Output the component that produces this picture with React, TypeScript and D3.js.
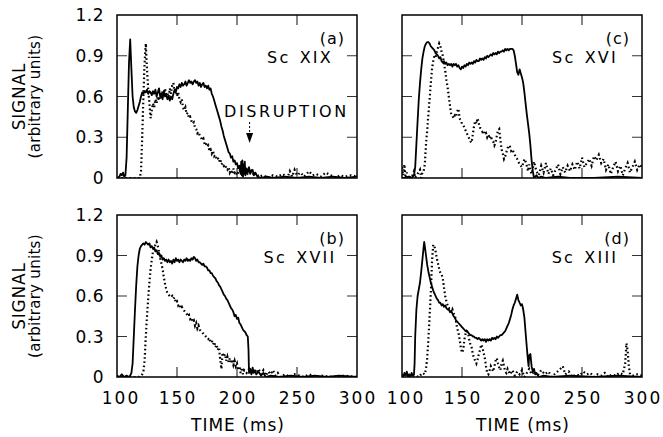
import React from "react";
import * as d3 from "d3";

type Pt = [number, number];

const yTickValues = [0, 0.3, 0.6, 0.9, 1.2];
const yTickLabels = ["0", "0.3", "0.6", "0.9", "1.2"];
const xTickValues = [100, 150, 200, 250, 300];
const xTickLabels = ["100", "150", "200", "250", "300"];

const panelLetters = ["(a)", "(b)", "(c)", "(d)"];
const panelNames = ["Sc XIX", "Sc XVII", "Sc XVI", "Sc XIII"];

const aSolid: Pt[] = [[100,0],[102,0.01],[103,0.03],[104,0.02],[105,0.04],[106,0.01],[107,0.02],[108,0.15],[109,0.5],[110,0.85],[111,1.02],[112,0.8],[113,0.6],[114,0.52],[115,0.49],[116,0.48],[117,0.5],[118,0.53],[119,0.56],[120,0.6],[121,0.63],[122,0.62],[123,0.64],[124,0.63],[125,0.65],[126,0.62],[127,0.64],[128,0.63],[129,0.61],[130,0.64],[131,0.62],[132,0.65],[133,0.6],[134,0.63],[135,0.66],[136,0.6],[137,0.62],[138,0.58],[139,0.64],[140,0.6],[141,0.62],[142,0.58],[143,0.6],[144,0.57],[145,0.6],[146,0.58],[147,0.62],[148,0.65],[149,0.63],[150,0.67],[151,0.66],[152,0.69],[153,0.67],[154,0.7],[155,0.68],[156,0.69],[157,0.71],[158,0.68],[159,0.7],[160,0.72],[161,0.7],[162,0.71],[163,0.69],[164,0.71],[165,0.72],[166,0.7],[167,0.71],[168,0.68],[169,0.7],[170,0.67],[171,0.69],[172,0.7],[173,0.67],[174,0.68],[175,0.66],[176,0.68],[177,0.65],[178,0.66],[179,0.62],[180,0.6],[181,0.57],[182,0.54],[183,0.51],[184,0.48],[185,0.45],[186,0.42],[187,0.38],[188,0.35],[189,0.31],[190,0.28],[191,0.25],[192,0.22],[193,0.19],[194,0.18],[195,0.15],[196,0.16],[197,0.12],[198,0.13],[199,0.1],[200,0.11],[201,0.07],[202,0.09],[203,0.03],[203.5,0.12],[204,0.02],[204.5,0.13],[205,0.01],[205.5,0.1],[206,0.03],[206.5,0.12],[207,0.02],[208,0.07],[209,0.04],[210,0.08],[211,0.03],[212,0.05],[213,0.06],[214,0.02],[215,0.04],[217,0.01],[220,0],[225,0.01],[230,0],[240,0.01],[250,0],[260,0.01],[270,0],[280,0.01],[290,0],[300,0.01]];

const aDotted: Pt[] = [[100,0],[105,0],[110,0],[115,0],[119,0],[120,0.05],[121,0.3],[122,0.6],[123,0.85],[124,0.99],[125,0.8],[126,0.65],[127,0.55],[128,0.44],[129,0.5],[130,0.55],[131,0.52],[132,0.58],[133,0.55],[134,0.6],[135,0.57],[136,0.62],[137,0.58],[138,0.64],[139,0.6],[140,0.66],[141,0.6],[142,0.63],[143,0.58],[144,0.66],[145,0.62],[146,0.68],[147,0.7],[148,0.62],[149,0.66],[150,0.6],[151,0.63],[152,0.58],[153,0.56],[154,0.58],[155,0.52],[156,0.5],[157,0.52],[158,0.47],[159,0.48],[160,0.44],[161,0.45],[162,0.42],[163,0.4],[164,0.41],[165,0.37],[166,0.36],[167,0.33],[168,0.34],[169,0.31],[170,0.3],[171,0.28],[172,0.29],[173,0.25],[174,0.26],[175,0.23],[176,0.24],[177,0.2],[178,0.21],[179,0.18],[180,0.2],[181,0.16],[182,0.17],[183,0.14],[184,0.15],[185,0.12],[186,0.14],[187,0.1],[188,0.11],[189,0.09],[190,0.1],[191,0.07],[192,0.06],[193,0.08],[194,0.04],[195,0.06],[196,0.03],[197,0.07],[198,0.04],[199,0.05],[200,0.02],[202,0.06],[204,0.03],[206,0.08],[208,0.02],[210,0.05],[212,0.07],[214,0.02],[216,0.04],[218,0.01],[222,0.02],[226,0],[230,0.02],[234,0.01],[238,0.03],[242,0],[244,0.05],[246,0.01],[248,0.06],[250,0.02],[253,0.04],[256,0.01],[260,0.05],[263,0.02],[266,0.03],[270,0.01],[274,0.04],[278,0.02],[282,0],[286,0.02],[290,0.01],[295,0.02],[300,0.01]];

const bSolid: Pt[] = [[100,0.01],[102,0],[104,0.02],[106,0],[108,0.01],[110,0],[111,0.01],[112,0.03],[113,0.1],[114,0.3],[115,0.5],[116,0.68],[117,0.82],[118,0.9],[119,0.95],[120,0.97],[121,0.98],[122,0.99],[123,0.98],[124,1.0],[125,0.99],[126,0.98],[127,0.99],[128,0.96],[129,0.97],[130,0.95],[131,0.96],[132,0.93],[133,0.94],[134,0.91],[135,0.92],[136,0.89],[137,0.9],[138,0.87],[139,0.88],[140,0.86],[141,0.87],[142,0.85],[143,0.87],[144,0.85],[145,0.86],[146,0.84],[147,0.87],[148,0.85],[149,0.88],[150,0.86],[151,0.87],[152,0.85],[153,0.87],[154,0.86],[155,0.85],[156,0.87],[157,0.86],[158,0.88],[159,0.86],[160,0.87],[161,0.86],[162,0.88],[163,0.87],[164,0.89],[165,0.88],[166,0.86],[167,0.87],[168,0.85],[169,0.85],[170,0.84],[171,0.83],[172,0.84],[173,0.82],[174,0.82],[175,0.81],[176,0.79],[177,0.79],[178,0.77],[179,0.77],[180,0.75],[181,0.74],[182,0.73],[183,0.71],[184,0.7],[185,0.68],[186,0.67],[187,0.65],[188,0.63],[189,0.61],[190,0.6],[191,0.58],[192,0.57],[193,0.55],[194,0.53],[195,0.51],[196,0.5],[197,0.48],[198,0.45],[199,0.46],[200,0.43],[201,0.44],[202,0.4],[203,0.39],[204,0.37],[205,0.35],[206,0.34],[207,0.33],[208,0.31],[209,0.3],[209.6,0.2],[210,0.03],[211,0.06],[212,0.02],[213,0.07],[214,0.03],[215,0.05],[216,0.02],[218,0.04],[220,0.01],[222,0.03],[224,0],[228,0.01],[235,0],[245,0.01],[255,0],[265,0.01],[275,0],[285,0.01],[300,0]];

const bDotted: Pt[] = [[100,0],[110,0],[118,0],[120,0.01],[121,0.02],[122,0.04],[123,0.12],[124,0.3],[125,0.45],[126,0.58],[127,0.7],[128,0.8],[129,0.87],[130,0.93],[131,0.95],[132,0.98],[133,1.0],[134,0.97],[135,0.93],[136,0.88],[137,0.84],[138,0.8],[139,0.74],[140,0.69],[141,0.65],[142,0.62],[143,0.61],[144,0.6],[145,0.59],[146,0.6],[147,0.58],[148,0.59],[149,0.55],[150,0.56],[151,0.53],[152,0.54],[153,0.51],[154,0.52],[155,0.5],[156,0.49],[157,0.48],[158,0.47],[159,0.45],[160,0.46],[161,0.43],[162,0.44],[163,0.41],[164,0.42],[165,0.38],[166,0.4],[167,0.36],[168,0.38],[169,0.35],[170,0.34],[171,0.33],[172,0.32],[173,0.31],[174,0.3],[175,0.29],[176,0.28],[177,0.29],[178,0.26],[179,0.27],[180,0.24],[181,0.26],[182,0.22],[183,0.24],[184,0.2],[185,0.22],[186,0.13],[187,0.06],[188,0.18],[189,0.15],[190,0.17],[191,0.12],[192,0.15],[193,0.11],[194,0.14],[195,0.1],[196,0.13],[197,0.09],[198,0.12],[199,0.08],[200,0.1],[201,0.05],[202,0.08],[203,0.03],[204,0.07],[205,0.02],[206,0.05],[208,0.03],[210,0.06],[212,0.02],[214,0.05],[216,0.03],[218,0.06],[220,0.02],[222,0.05],[224,0.01],[226,0.04],[228,0.02],[230,0.05],[232,0.01],[234,0.03],[236,0],[240,0.02],[244,0],[248,0.02],[252,0.01],[256,0],[260,0.02],[265,0],[270,0.01],[280,0],[290,0.01],[300,0]];

const cSolid: Pt[] = [[100,0],[103,0],[106,0.01],[108,0],[110,0.02],[111,0.08],[112,0.25],[113,0.42],[114,0.58],[115,0.7],[116,0.8],[117,0.88],[118,0.93],[119,0.97],[120,0.99],[121,1.0],[122,1.0],[123,0.99],[124,0.97],[125,0.96],[126,0.95],[127,0.94],[128,0.92],[129,0.91],[130,0.9],[131,0.88],[132,0.89],[133,0.86],[134,0.85],[135,0.86],[136,0.84],[137,0.85],[138,0.83],[139,0.84],[140,0.83],[141,0.84],[142,0.82],[143,0.84],[144,0.83],[145,0.84],[146,0.82],[147,0.83],[148,0.81],[149,0.8],[150,0.82],[151,0.81],[152,0.83],[153,0.82],[154,0.84],[155,0.83],[156,0.85],[157,0.84],[158,0.85],[159,0.84],[160,0.86],[161,0.85],[162,0.87],[163,0.86],[164,0.86],[165,0.88],[166,0.87],[167,0.88],[168,0.87],[169,0.89],[170,0.88],[171,0.9],[172,0.89],[173,0.9],[174,0.91],[175,0.9],[176,0.92],[177,0.91],[178,0.92],[179,0.91],[180,0.93],[181,0.92],[182,0.93],[183,0.93],[184,0.94],[185,0.93],[186,0.95],[187,0.94],[188,0.95],[189,0.94],[190,0.95],[191,0.95],[192,0.95],[193,0.94],[194,0.9],[195,0.84],[196,0.78],[197,0.76],[198,0.8],[199,0.77],[200,0.74],[201,0.7],[202,0.63],[203,0.55],[204,0.47],[205,0.4],[206,0.33],[207,0.24],[208,0.13],[209,0.05],[210,0],[212,0.02],[214,0],[216,0.01],[220,0],[230,0.01],[240,0],[260,0],[280,0.01],[300,0]];

const cDotted: Pt[] = [[100,0.08],[101,0.02],[102,0.1],[103,0],[104,0.04],[105,0],[106,0.01],[108,0],[110,0.05],[111,0],[113,0.03],[115,0.06],[116,0],[117,0.04],[118,0.05],[119,0.1],[120,0.25],[121,0.35],[122,0.47],[123,0.58],[124,0.7],[125,0.8],[126,0.86],[127,0.9],[128,0.89],[129,0.93],[130,0.96],[131,0.99],[132,0.97],[133,0.93],[134,0.9],[135,0.84],[136,0.79],[137,0.72],[138,0.67],[139,0.6],[140,0.53],[141,0.47],[142,0.46],[143,0.44],[144,0.46],[145,0.45],[146,0.49],[147,0.51],[148,0.44],[149,0.42],[150,0.4],[151,0.39],[152,0.37],[153,0.35],[154,0.33],[155,0.31],[156,0.29],[157,0.27],[158,0.26],[159,0.32],[160,0.38],[161,0.42],[162,0.4],[163,0.44],[164,0.4],[165,0.37],[166,0.36],[167,0.34],[168,0.35],[169,0.32],[170,0.33],[171,0.3],[172,0.32],[173,0.29],[174,0.31],[175,0.28],[176,0.27],[177,0.24],[178,0.26],[179,0.31],[180,0.35],[181,0.36],[182,0.28],[183,0.21],[184,0.18],[185,0.14],[186,0.16],[187,0.19],[188,0.22],[189,0.24],[190,0.23],[191,0.2],[192,0.21],[193,0.19],[194,0.17],[195,0.15],[196,0.14],[197,0.12],[198,0.1],[199,0.09],[200,0.08],[201,0.11],[202,0.14],[203,0.12],[204,0.09],[205,0.05],[206,0.1],[207,0.06],[208,0.03],[209,0.07],[210,0.12],[212,0.05],[214,0.02],[216,0.09],[218,0.04],[220,0.11],[222,0.03],[224,0.07],[226,0.02],[228,0.06],[230,0.1],[232,0.03],[234,0.08],[236,0.04],[238,0.09],[240,0.05],[242,0.1],[244,0.06],[246,0.12],[248,0.07],[250,0.15],[252,0.08],[254,0.11],[256,0.14],[258,0.09],[260,0.16],[262,0.13],[264,0.17],[266,0.11],[268,0.14],[270,0.06],[272,0.1],[274,0.03],[276,0.08],[278,0.12],[280,0.05],[282,0.09],[284,0.02],[286,0.07],[288,0.11],[290,0.04],[292,0.08],[294,0.12],[296,0.06],[298,0.1],[300,0.08]];

const dSolid: Pt[] = [[100,0.02],[101,0],[102,0.03],[103,0.01],[104,0.04],[105,0],[106,0.02],[107,0],[108,0.03],[109,0.01],[110,0.02],[110.5,0.1],[111,0.3],[112,0.5],[113,0.6],[114,0.65],[115,0.7],[116,0.78],[117,0.87],[118,0.96],[118.5,1.0],[119,0.97],[120,0.9],[121,0.83],[122,0.78],[123,0.74],[124,0.7],[125,0.67],[126,0.64],[127,0.62],[128,0.6],[129,0.58],[130,0.57],[131,0.55],[132,0.55],[133,0.53],[134,0.54],[135,0.52],[136,0.53],[137,0.51],[138,0.5],[139,0.5],[140,0.48],[141,0.49],[142,0.47],[143,0.45],[144,0.44],[145,0.42],[146,0.41],[147,0.4],[148,0.39],[149,0.38],[150,0.37],[151,0.36],[152,0.35],[153,0.34],[154,0.34],[155,0.33],[156,0.32],[157,0.31],[158,0.31],[159,0.3],[160,0.3],[161,0.29],[162,0.29],[163,0.28],[164,0.29],[165,0.28],[166,0.27],[167,0.28],[168,0.27],[169,0.28],[170,0.26],[171,0.28],[172,0.27],[173,0.28],[174,0.27],[175,0.29],[176,0.28],[177,0.29],[178,0.28],[179,0.3],[180,0.29],[181,0.3],[182,0.31],[183,0.31],[184,0.32],[185,0.33],[186,0.34],[187,0.36],[188,0.38],[189,0.4],[190,0.43],[191,0.46],[192,0.5],[193,0.53],[194,0.55],[195,0.58],[196,0.61],[197,0.57],[198,0.55],[199,0.53],[200,0.54],[201,0.5],[202,0.44],[203,0.33],[204,0.22],[205,0.12],[205.5,0.08],[206,0.16],[207,0.17],[208,0.08],[209,0.04],[210,0.06],[211,0.02],[212,0.03],[214,0],[218,0.01],[225,0],[240,0.01],[260,0],[280,0.01],[300,0]];

const dDotted: Pt[] = [[100,0],[103,0.02],[106,0],[110,0.01],[114,0],[117,0.03],[119,0.02],[120,0.06],[121,0.14],[122,0.28],[123,0.45],[124,0.62],[125,0.85],[126,0.98],[127,0.97],[128,0.93],[129,0.88],[130,0.84],[131,0.8],[132,0.77],[133,0.76],[134,0.73],[135,0.66],[136,0.6],[137,0.56],[138,0.53],[139,0.51],[140,0.51],[141,0.48],[142,0.5],[143,0.47],[144,0.46],[145,0.41],[146,0.36],[147,0.33],[148,0.28],[149,0.22],[150,0.18],[151,0.2],[152,0.28],[153,0.32],[154,0.34],[155,0.33],[156,0.28],[157,0.24],[158,0.22],[159,0.17],[160,0.14],[161,0.12],[162,0.1],[163,0.13],[164,0.17],[165,0.2],[166,0.24],[167,0.22],[168,0.18],[169,0.14],[170,0.08],[171,0.03],[172,0.02],[173,0.05],[174,0.08],[175,0.06],[176,0.04],[177,0.08],[178,0.12],[179,0.14],[180,0.1],[181,0.07],[182,0.05],[183,0.1],[184,0.12],[185,0.08],[186,0.04],[187,0.03],[188,0.06],[190,0.02],[192,0.05],[194,0.01],[196,0.04],[198,0.02],[200,0.05],[202,0],[204,0.03],[206,0.06],[208,0.02],[210,0.04],[213,0.01],[216,0.05],[219,0.02],[222,0.04],[225,0],[228,0.03],[231,0.05],[234,0.08],[236,0.02],[239,0.04],[242,0],[245,0.02],[248,0.01],[251,0.04],[254,0.02],[257,0.03],[260,0],[263,0.02],[266,0.01],[269,0.03],[272,0],[275,0.02],[278,0.01],[281,0.03],[284,0.02],[286,0.1],[287,0.25],[288,0.2],[289,0.08],[290,0.02],[293,0.01],[296,0.02],[300,0.01]];

const solidSeries = [aSolid, bSolid, cSolid, dSolid];
const dottedSeries = [aDotted, bDotted, cDotted, dDotted];

const FONT = "'DejaVu Sans', Verdana, sans-serif";

const panels = [
  { left: 117, right: 357, top: 15, bottom: 178, row: 0, col: 0 },
  { left: 117, right: 357, top: 215, bottom: 377, row: 1, col: 0 },
  { left: 402, right: 642, top: 15, bottom: 178, row: 0, col: 1 },
  { left: 402, right: 642, top: 215, bottom: 377, row: 1, col: 1 },
];

function Panel({ idx }: { idx: number }) {
  const p = panels[idx];
  const x = d3.scaleLinear().domain([100, 300]).range([p.left, p.right]);
  const y = d3.scaleLinear().domain([0, 1.2]).range([p.bottom, p.top]);
  const line = d3
    .line<Pt>()
    .x((d) => x(d[0]))
    .y((d) => y(d[1]));
  const clipId = `clip${idx}`;
  const innerY = yTickValues.filter((v) => v > 0 && v < 1.2);
  const innerX = xTickValues.filter((v) => v > 100 && v < 300);
  const tl = 10;
  return (
    <g>
      <defs>
        <clipPath id={clipId}>
          <rect x={p.left} y={p.top} width={p.right - p.left} height={p.bottom - p.top} />
        </clipPath>
      </defs>
      {innerY.map((v) => (
        <g key={"y" + v} stroke="#333" strokeWidth={1}>
          <line x1={p.left} x2={p.left + tl} y1={y(v)} y2={y(v)} />
          <line x1={p.right - tl} x2={p.right} y1={y(v)} y2={y(v)} />
        </g>
      ))}
      {innerX.map((v) => (
        <g key={"x" + v} stroke="#222" strokeWidth={1.1}>
          <line x1={x(v)} x2={x(v)} y1={p.top} y2={p.top + tl} />
          <line x1={x(v)} x2={x(v)} y1={p.bottom - tl} y2={p.bottom} />
        </g>
      ))}
      <g clipPath={`url(#${clipId})`}>
        <path
          d={line(dottedSeries[idx]) || ""}
          fill="none"
          stroke="#000"
          strokeWidth={2.2}
          strokeDasharray="1.6 2.6"
        />
        <path
          d={line(solidSeries[idx]) || ""}
          fill="none"
          stroke="#000"
          strokeWidth={1.8}
          strokeLinejoin="round"
        />
      </g>
      <rect
        x={p.left}
        y={p.top}
        width={p.right - p.left}
        height={p.bottom - p.top}
        fill="none"
        stroke="#000"
        strokeWidth={1.5}
      />
      <text
        x={p.right - 12}
        y={p.top + 29}
        textAnchor="end"
        fontFamily={FONT}
        fontSize={16}
        letterSpacing={1}
      >
        {panelLetters[idx]}
      </text>
      <text
        x={p.right - 57}
        y={p.top + 48}
        textAnchor="middle"
        fontFamily={FONT}
        fontSize={16}
        letterSpacing={2.2}
        wordSpacing={2}
      >
        {panelNames[idx]}
      </text>
      {p.col === 0 &&
        yTickValues.map((v, i) => (
          <text
            key={"yl" + v}
            x={p.left - 13}
            y={y(v) + 6}
            textAnchor="end"
            fontFamily={FONT}
            fontSize={17}
            letterSpacing={0.5}
          >
            {yTickLabels[i]}
          </text>
        ))}
      {p.row === 1 &&
        xTickValues.map((v, i) => (
          <text
            key={"xl" + v}
            x={x(v) + (i === 0 ? 4 : 1)}
            y={p.bottom + 27}
            textAnchor="middle"
            fontFamily={FONT}
            fontSize={17}
            letterSpacing={2}
          >
            {xTickLabels[i]}
          </text>
        ))}
      {p.row === 1 && (
        <text
          x={(p.left + p.right) / 2 + 1}
          y={p.bottom + 54}
          textAnchor="middle"
          fontFamily={FONT}
          fontSize={17}
          letterSpacing={1}
        >
          TIME (ms)
        </text>
      )}
      {p.col === 0 && (
        <g transform={`translate(25, ${(p.top + p.bottom) / 2}) rotate(-90)`}>
          <text textAnchor="middle" fontFamily={FONT} fontSize={17} letterSpacing={0.8}>
            SIGNAL
          </text>
        </g>
      )}
      {p.col === 0 && (
        <g transform={`translate(39.5, ${(p.top + p.bottom) / 2}) rotate(-90)`}>
          <text textAnchor="middle" fontFamily={FONT} fontSize={15} letterSpacing={0.3}>
            (arbitrary units)
          </text>
        </g>
      )}
      {idx === 0 && (
        <g>
          <text x={224} y={117} fontFamily={FONT} fontSize={16} letterSpacing={2.6}>
            DISRUPTION
          </text>
          <line x1={x(210.5)} x2={x(210.5)} y1={122} y2={133} stroke="#000" strokeWidth={1} strokeDasharray="2 2" />
          <path
            d={`M${x(210.5) - 3.5},133 L${x(210.5) + 3.5},133 L${x(210.5)},143 Z`}
            fill="#000"
          />
        </g>
      )}
    </g>
  );
}

export default function App() {
  return (
    <svg
      width={663}
      height={437}
      viewBox="0 0 663 437"
      style={{ position: "absolute", left: 0, top: 0, background: "#fff" }}
    >
      <rect x={0} y={0} width={663} height={437} fill="#fff" />
      {panels.map((_, i) => (
        <Panel key={i} idx={i} />
      ))}
    </svg>
  );
}
